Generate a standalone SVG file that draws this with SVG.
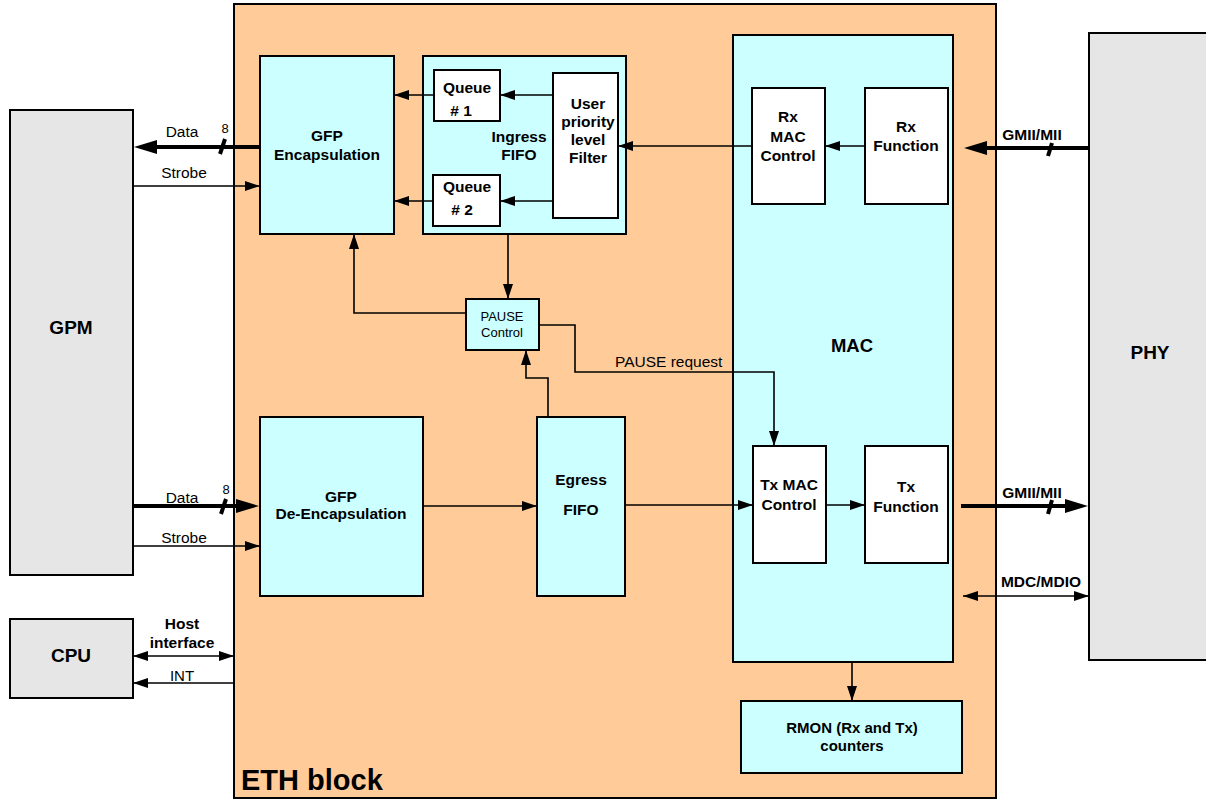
<svg xmlns="http://www.w3.org/2000/svg" width="1206" height="799" viewBox="0 0 1206 799">
<style>
.box{stroke:#000;stroke-width:2}
.gray{fill:#e6e6e6}
.cyan{fill:#ccffff}
.white{fill:#ffffff}
.eth{fill:#ffcc99}
text{font-family:"Liberation Sans",Arial,sans-serif;fill:#000}
.b{font-weight:bold}
.ln{fill:none;stroke:#000;stroke-width:1.6}
.thk{fill:none;stroke:#000;stroke-width:4}
</style>
<defs>
<marker id="ar" markerUnits="userSpaceOnUse" markerWidth="16" markerHeight="12" viewBox="0 0 16 12" refX="15" refY="6" orient="auto"><path d="M0,1 L15,6 L0,11 z" fill="#000"/></marker>
<marker id="ar2" markerUnits="userSpaceOnUse" markerWidth="16" markerHeight="12" viewBox="0 0 16 12" refX="15" refY="6" orient="auto-start-reverse"><path d="M0,1 L15,6 L0,11 z" fill="#000"/></marker>
<marker id="at" markerUnits="userSpaceOnUse" markerWidth="24" markerHeight="16" viewBox="0 0 24 16" refX="12" refY="8" orient="auto"><path d="M0,1 L23,8 L0,15 z" fill="#000"/></marker>
</defs>

<g id="eth-block"><rect class="box eth" x="234" y="4" width="762" height="794"/><text class="b" x="241" y="790" font-size="29">ETH block</text></g>
<g id="gpm"><rect class="box gray" x="10" y="110" width="123" height="465"/><text class="b" x="71" y="334" font-size="19" text-anchor="middle">GPM</text></g>
<g id="cpu"><rect class="box gray" x="10" y="619" width="123" height="79"/><text class="b" x="71" y="662" font-size="19" text-anchor="middle">CPU</text></g>
<g id="phy"><rect class="box gray" x="1089" y="33" width="130" height="627"/><text class="b" x="1150" y="359" font-size="19" text-anchor="middle">PHY</text></g>

<g id="gfp-encap"><rect class="box cyan" x="260" y="56" width="134" height="178"/><text class="b" font-size="15.5" text-anchor="middle"><tspan x="327" y="141">GFP</tspan><tspan x="327" y="160">Encapsulation</tspan></text></g>
<g id="ingress-fifo"><rect class="box cyan" x="423" y="56" width="203" height="178"/><text class="b" font-size="15.5" text-anchor="middle"><tspan x="519" y="142">Ingress</tspan><tspan x="519" y="160">FIFO</tspan></text></g>
<g id="queue1"><rect class="box white" x="434" y="70" width="66" height="51"/><text class="b" font-size="15.5" text-anchor="middle"><tspan x="467" y="93">Queue</tspan><tspan x="461" y="116"># 1</tspan></text></g>
<g id="queue2"><rect class="box white" x="433" y="175" width="67" height="51"/><text class="b" font-size="15.5" text-anchor="middle"><tspan x="467" y="192">Queue</tspan><tspan x="462" y="215"># 2</tspan></text></g>
<g id="filter"><rect class="box white" x="553" y="73" width="65" height="145"/><text class="b" font-size="15.5" text-anchor="middle"><tspan x="588" y="109">User</tspan><tspan x="588" y="127">priority</tspan><tspan x="588" y="145">level</tspan><tspan x="588" y="163">Filter</tspan></text></g>

<g id="mac"><rect class="box cyan" x="733" y="35" width="220" height="627"/><text class="b" x="852" y="352" font-size="18.5" text-anchor="middle">MAC</text></g>
<g id="rx-mac-control"><rect class="box white" x="752" y="88" width="73" height="116"/><text class="b" font-size="15.5" text-anchor="middle"><tspan x="788" y="122">Rx</tspan><tspan x="788" y="142">MAC</tspan><tspan x="788" y="161">Control</tspan></text></g>
<g id="rx-function"><rect class="box white" x="865" y="88" width="83" height="116"/><text class="b" font-size="15.5" text-anchor="middle"><tspan x="906" y="132">Rx</tspan><tspan x="906" y="151">Function</tspan></text></g>
<g id="tx-mac-control"><rect class="box white" x="753" y="446" width="73" height="117"/><text class="b" font-size="15.5" text-anchor="middle"><tspan x="789" y="490">Tx MAC</tspan><tspan x="789" y="510">Control</tspan></text></g>
<g id="tx-function"><rect class="box white" x="865" y="446" width="83" height="117"/><text class="b" font-size="15.5" text-anchor="middle"><tspan x="906" y="492">Tx</tspan><tspan x="906" y="512">Function</tspan></text></g>

<g id="pause-control"><rect class="box cyan" x="466" y="299" width="73" height="51"/><text font-size="13" text-anchor="middle"><tspan x="502" y="321">PAUSE</tspan><tspan x="502" y="337">Control</tspan></text></g>
<g id="gfp-deencap"><rect class="box cyan" x="260" y="417" width="163" height="179"/><text class="b" font-size="15.5" text-anchor="middle"><tspan x="341" y="502">GFP</tspan><tspan x="341" y="519">De-Encapsulation</tspan></text></g>
<g id="egress-fifo"><rect class="box cyan" x="537" y="417" width="88" height="179"/><text class="b" font-size="15.5" text-anchor="middle"><tspan x="581" y="485">Egress</tspan><tspan x="581" y="515">FIFO</tspan></text></g>
<g id="rmon"><rect class="box cyan" x="741" y="701" width="221" height="72"/><text class="b" font-size="15" text-anchor="middle"><tspan x="852" y="733">RMON (Rx and Tx)</tspan><tspan x="852" y="751">counters</tspan></text></g>

<g id="connectors">
<!-- GPM top data / strobe -->
<line class="thk" x1="260" y1="147" x2="145" y2="147" marker-end="url(#at)"/>
<line class="thk" x1="220" y1="154" x2="225" y2="139" stroke-width="3"/>
<text x="182" y="137" font-size="15.5" text-anchor="middle">Data</text>
<text x="225" y="133" font-size="13" text-anchor="middle">8</text>
<line class="ln" x1="133" y1="186" x2="260" y2="186" marker-end="url(#ar)"/>
<text x="184" y="178" font-size="15.5" text-anchor="middle">Strobe</text>
<!-- GPM bottom data / strobe -->
<line class="thk" x1="133" y1="506" x2="248" y2="506" marker-end="url(#at)"/>
<line class="thk" x1="221" y1="514" x2="226" y2="499" stroke-width="3"/>
<text x="182" y="503" font-size="15.5" text-anchor="middle">Data</text>
<text x="226" y="494" font-size="13" text-anchor="middle">8</text>
<line class="ln" x1="133" y1="546" x2="260" y2="546" marker-end="url(#ar)"/>
<text x="184" y="543" font-size="15.5" text-anchor="middle">Strobe</text>
<!-- CPU -->
<line class="ln" x1="133" y1="656" x2="234" y2="656" marker-start="url(#ar2)" marker-end="url(#ar2)"/>
<text class="b" font-size="15.5" text-anchor="middle"><tspan x="182" y="629">Host</tspan><tspan x="182" y="648">interface</tspan></text>
<line class="ln" x1="234" y1="683" x2="133" y2="683" marker-end="url(#ar)"/>
<text x="182" y="681" font-size="15" text-anchor="middle">INT</text>
<!-- Ingress -->
<line class="ln" x1="553" y1="95" x2="500" y2="95" marker-end="url(#ar)"/>
<line class="ln" x1="553" y1="201" x2="500" y2="201" marker-end="url(#ar)"/>
<line class="ln" x1="434" y1="95" x2="394" y2="95" marker-end="url(#ar)"/>
<line class="ln" x1="433" y1="201" x2="394" y2="201" marker-end="url(#ar)"/>
<line class="ln" x1="752" y1="146" x2="618" y2="146" marker-end="url(#ar)"/>
<line class="ln" x1="865" y1="146" x2="825" y2="146" marker-end="url(#ar)"/>
<!-- PHY Rx -->
<line class="thk" x1="1089" y1="148" x2="975" y2="148" marker-end="url(#at)"/>
<line class="thk" x1="1048" y1="156" x2="1052" y2="143" stroke-width="3"/>
<text class="b" x="1032" y="140" font-size="15.5" text-anchor="middle">GMII/MII</text>
<!-- PAUSE -->
<line class="ln" x1="508" y1="234" x2="508" y2="299" marker-end="url(#ar)"/>
<polyline class="ln" points="466,313 354,313 354,234" marker-end="url(#ar)"/>
<polyline class="ln" points="539,325 575,325 575,372 774,372 774,446" marker-end="url(#ar)"/>
<text x="615" y="367" font-size="15.5">PAUSE request</text>
<polyline class="ln" points="548,417 548,378 526,378 526,350" marker-end="url(#ar)"/>
<!-- Egress path -->
<line class="ln" x1="423" y1="506" x2="537" y2="506" marker-end="url(#ar)"/>
<line class="ln" x1="625" y1="505" x2="753" y2="505" marker-end="url(#ar)"/>
<line class="ln" x1="826" y1="505" x2="865" y2="505" marker-end="url(#ar)"/>
<!-- PHY Tx -->
<line class="thk" x1="961" y1="506" x2="1077" y2="506" marker-end="url(#at)"/>
<line class="thk" x1="1048" y1="514" x2="1052" y2="500" stroke-width="3"/>
<text class="b" x="1032" y="498" font-size="15.5" text-anchor="middle">GMII/MII</text>
<line class="ln" x1="963" y1="596" x2="1089" y2="596" marker-start="url(#ar2)" marker-end="url(#ar2)"/>
<text class="b" x="1041" y="587" font-size="15.5" text-anchor="middle">MDC/MDIO</text>
<!-- RMON -->
<line class="ln" x1="852" y1="662" x2="852" y2="701" stroke-width="1.2" marker-end="url(#ar)"/>
</g>
</svg>
